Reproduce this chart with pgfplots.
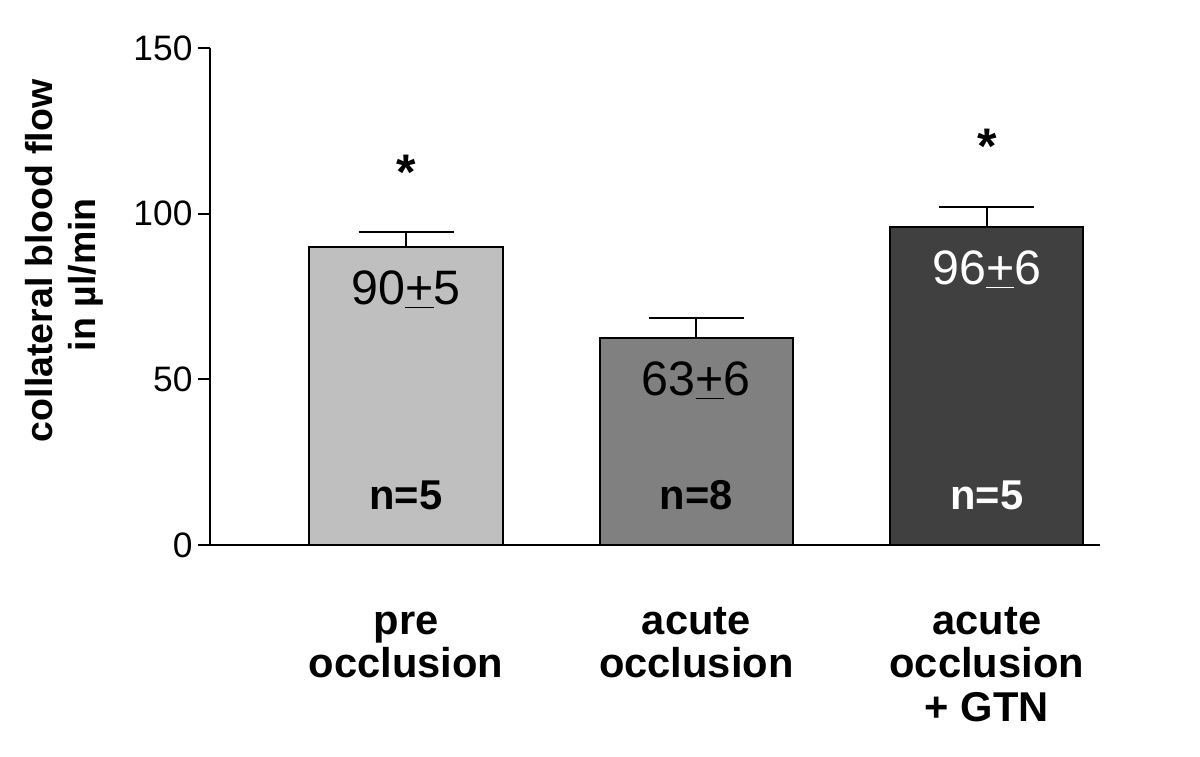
\documentclass[border=0pt]{standalone}
\usepackage{fontspec}
\setmainfont{Liberation Sans}
\usepackage{pgfplots}
\pgfplotsset{compat=1.18}
\definecolor{g1}{RGB}{191,191,191}
\definecolor{g2}{RGB}{128,128,128}
\definecolor{g3}{RGB}{64,64,64}
\begin{document}
\begin{tikzpicture}[x=1pt,y=1pt]
\path[use as bounding box] (-126,-126.6) rectangle (594,327);
\begin{axis}[
  at={(0,0)}, anchor=south west, scale only axis,
  width=534pt, height=298.2pt,
  xmin=-0.675, xmax=2.39, ymin=0, ymax=150,
  axis lines*=left,
  axis line style={line width=1.2pt},
  ytick={0,50,100,150},
  ytick style={line width=1.2pt, black},
  major tick length=7pt, tick align=outside,
  xtick={0,1,2},
  xticklabels={{\strut pre\\occlusion},{\strut acute\\occlusion},{\strut acute\\occlusion\\+ GTN}},
  xtick style={draw=none},
  /pgf/number format/assume math mode=true,
  yticklabel style={font=\fontsize{21.2}{24}\selectfont},
  xticklabel style={font=\fontsize{25}{26}\selectfont\bfseries, align=center, anchor=north, yshift=-25pt},
  ylabel={\hspace*{16.6pt}collateral blood flow\\in µl/min},
  ylabel style={font=\fontsize{22.5}{25.5}\selectfont\bfseries, align=center,
    at={(axis description cs:-0.120,0.544)}, anchor=south, inner sep=0pt},
  clip=false,
]
\addplot[ybar, bar width=0.666, fill=g1, draw=black, line width=1.2pt,
  error bars/.cd, y dir=plus, y explicit,
  error bar style={line width=1.2pt},
  error mark options={rotate=90, mark size=28.5pt, line width=1.2pt}]
  coordinates {(0,90) +- (0,4.5)};
\addplot[ybar, bar width=0.666, fill=g2, draw=black, line width=1.2pt,
  error bars/.cd, y dir=plus, y explicit,
  error bar style={line width=1.2pt},
  error mark options={rotate=90, mark size=28.5pt, line width=1.2pt}]
  coordinates {(1,62.6) +- (0,5.9)};
\addplot[ybar, bar width=0.666, fill=g3, draw=black, line width=1.2pt,
  error bars/.cd, y dir=plus, y explicit,
  error bar style={line width=1.2pt},
  error mark options={rotate=90, mark size=28.5pt, line width=1.2pt}]
  coordinates {(2,96) +- (0,6)};
\node[font=\fontsize{29}{30}\selectfont, anchor=base] at (axis cs:0,72.5) {90\underline{+}5};
\node[font=\fontsize{29}{30}\selectfont, anchor=base] at (axis cs:1,45.1) {63\underline{+}6};
\node[font=\fontsize{29}{30}\selectfont, anchor=base, text=white] at (axis cs:2,78.5) {96\underline{+}6};
\node[font=\fontsize{25}{26}\selectfont\bfseries, anchor=base] at (axis cs:0,10.6) {n=5};
\node[font=\fontsize{25}{26}\selectfont\bfseries, anchor=base] at (axis cs:1,10.6) {n=8};
\node[font=\fontsize{25}{26}\selectfont\bfseries, anchor=base, text=white] at (axis cs:2,10.6) {n=5};
\node[font=\fontsize{30}{30}\selectfont\bfseries] at (axis cs:0,112.6) {*};
\node[font=\fontsize{30}{30}\selectfont\bfseries] at (axis cs:2,120.4) {*};
\end{axis}
\end{tikzpicture}
\end{document}
